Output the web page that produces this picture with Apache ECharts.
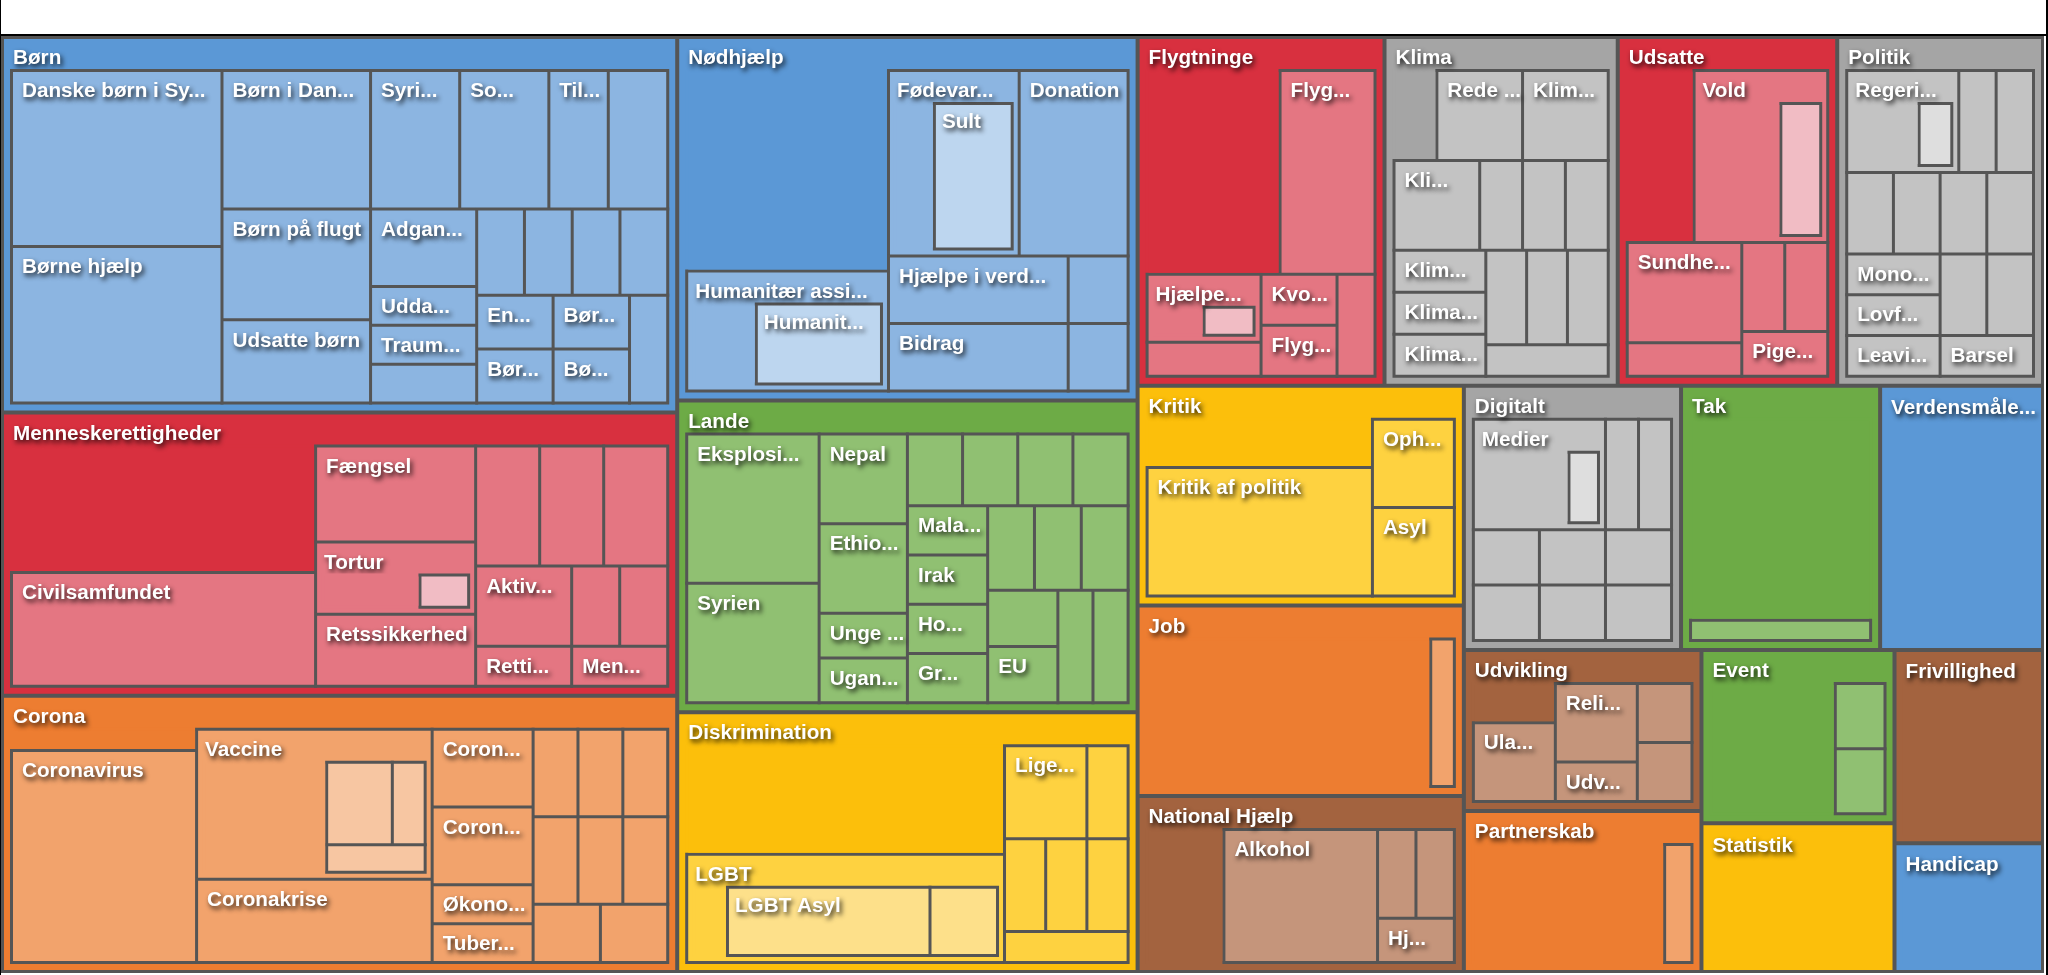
<!DOCTYPE html>
<html lang="da">
<head>
<meta charset="utf-8">
<title>Treemap</title>
<script src="https://cdn.jsdelivr.net/npm/echarts@6/dist/echarts.min.js"></script>
<style>
html,body{margin:0;padding:0;background:#fff;overflow:hidden;}
body{width:2048px;height:975px;position:relative;}
.rule{position:absolute;background:#000;}
#chart{position:absolute;left:1px;top:36px;width:2043px;height:937px;}
</style>
</head>
<body>
<div class="rule" style="left:0;top:34px;width:2048px;height:2px"></div>
<div class="rule" style="left:0;top:0;width:1px;height:975px"></div>
<div class="rule" style="left:2046px;top:0;width:2px;height:975px"></div>
<div id="chart"></div>
<script>
// ---------------- DATA ----------------
// OWN = posts that belong to the parent itself (drawn as the parent's blank area)
const OWN = null;

const categories = ['Børn','Menneskerettigheder','Corona','Nødhjælp','Lande','Diskrimination',
  'Flygtninge','Klima','Udsatte','Politik','Kritik','Job','National Hjælp','Digitalt','Tak',
  'Verdensmåle...','Udvikling','Partnerskab','Event','Statistik','Frivillighed','Handicap'];
const categoryValues = [53,40,39,35,30,25,18,17,16,15,15,13,12,12,11,9,8,8,7,6,6,4];

// third level
const subTortur     = [[OWN,2],['',1]];
const subVaccine    = [[OWN,5],['',2],['',1],['',1]];
const subHumanitaer = [[OWN,2],['Humanit...',4]];
const subFodevar    = [[OWN,2],['Sult',4]];
const subLGBT       = [[OWN,1],['LGBT Asyl',6],['',2]];
const subHjaelpe    = [[OWN,1],['',1]];
const subVold       = [[OWN,4],['',2]];
const subRegeri     = [[OWN,2],['',1]];
const subMedier     = [[OWN,3],['',1]];

// second level
const subBorn = [['Danske børn i Sy...',9],['Børne hjælp',8],['Børn i Dan...',5],['Børn på flugt',4],
  ['Udsatte børn',3],['Syri...',3],['So...',3],['Til...',2],['',2],['Adgan...',2],['Udda...',1],
  ['Traum...',1],['',1],['',1],['',1],['',1],['',1],['En...',1],['Bør...',1],['Bør...',1],['Bø...',1],['',1]];
const subMenneske = [[OWN,10],['Civilsamfundet',9],['Fængsel',4],['Tortur',3,subTortur],['Retssikkerhed',3],
  ['',2],['',2],['',2],['Aktiv...',2],['Retti...',1],['',1],['',1],['Men...',1]];
const subCorona = [[OWN,1],['Coronavirus',10],['Vaccine',9,subVaccine],['Coronakrise',5],['Coron...',2],
  ['Coron...',2],['Økono...',1],['Tuber...',1],['',1],['',1],['',1],['',1],['',1],['',1],['',1],['',1]];
const subNodhjaelp = [[OWN,10],['Humanitær assi...',6,subHumanitaer],['Fødevar...',6,subFodevar],
  ['Donation',5],['Hjælpe i verd...',3],['Bidrag',3],['',1],['',1]];
const subLande = [['Eksplosi...',5],['Syrien',4],['Nepal',2],['Ethio...',2],['Unge ...',1],['Ugan...',1],
  ['',1],['',1],['',1],['',1],['Mala...',1],['Irak',1],['Ho...',1],['Gr...',1],['',1],['',1],['',1],
  ['',1],['EU',1],['',1],['',1]];
const subDiskrimination = [[OWN,9],['LGBT',9,subLGBT],['Lige...',2],['',1],['',1],['',1],['',1],['',1]];
const subFlygtninge = [[OWN,7],['Flyg...',5],['Hjælpe...',2,subHjaelpe],['',1],['Kvo...',1],['Flyg...',1],['',1]];
const subKlima = [[OWN,1],['Rede ...',2],['Klim...',2],['Kli...',2],['',1],['',1],['',1],['Klim...',1],
  ['Klima...',1],['Klima...',1],['',1],['',1],['',1],['',1]];
const subUdsatte = [[OWN,3],['Vold',6,subVold],['Sundhe...',3],['',1],['',1],['',1],['Pige...',1]];
const subPolitik = [['Regeri...',3,subRegeri],['',1],['',1],['',1],['',1],['',1],['',1],['Mono...',1],
  ['Lovf...',1],['Leavi...',1],['',1],['',1],['Barsel',1]];
const subKritik = [[OWN,3],['Kritik af politik',8],['Oph...',2],['Asyl',2]];
const subJob = [[OWN,12],['',1]];
const subNational = [[OWN,3],['Alkohol',6],['',1],['',1],['Hj...',1]];
const subDigitalt = [['Medier',4,subMedier],['',1],['',1],['',1],['',1],['',1],['',1],['',1],['',1]];
const subTak = [[OWN,10],['',1]];
const subUdvikling = [[OWN,1],['Ula...',2],['Reli...',2],['Udv...',1],['',1],['',1]];
const subPartnerskab = [[OWN,7],['',1]];
const subEvent = [[OWN,5],['',1],['',1]];

const categoryChildren = [subBorn,subMenneske,subCorona,subNodhjaelp,subLande,subDiskrimination,
  subFlygtninge,subKlima,subUdsatte,subPolitik,subKritik,subJob,subNational,subDigitalt,subTak,
  null,subUdvikling,subPartnerskab,subEvent,null,null,null];

// ---------------- STYLE ----------------
const categoryHue = ['blue','red','orange','blue','green','yellow','red','gray','red','gray','yellow',
  'orange','brown','gray','green','blue','brown','orange','green','yellow','brown','blue'];
const shades = {
  blue:   ['#5b98d6','#8cb5e1','#bdd6ef'],
  red:    ['#d8303f','#e47682','#f1bcc4'],
  orange: ['#ed7d31','#f2a36c','#f7c6a2'],
  green:  ['#6dab46','#90c072','#b6d6a0'],
  yellow: ['#fcbf0b','#fed240','#fde08a'],
  gray:   ['#a5a5a5','#c3c3c3','#dedede'],
  brown:  ['#a3633f','#c5957b','#dcc0b0']
};
const LINE = '#555555';

function filler(value, color) {
  // border in the same colour so the blank area never paints over a neighbour's outline
  return {name: '', value: value, itemStyle: {color: color, borderColor: color, borderWidth: 3}, label: {show: false}};
}
function box(name, value, color, labelPos) {
  const n = {name: name, value: value, itemStyle: {color: color, borderColor: LINE, borderWidth: 3}};
  if (labelPos) n.label = {position: labelPos};
  return n;
}
function group(name, value, sub, c2, c3) {
  const inner = sub.map(function (s) { return s[0] === OWN ? filler(s[1], c2) : box(s[0], s[1], c3, [6, 7]); });
  return {
    name: name, value: value,
    itemStyle: {color: c2, borderColor: LINE, borderWidth: 3, gapWidth: 0},
    upperLabel: {show: false},
    children: [{
      name: name, value: value,
      itemStyle: {color: c2, borderColor: c2, borderWidth: 4, gapWidth: -3},
      upperLabel: {show: true},
      children: inner
    }]
  };
}
function second(list, c1, c2, c3) {
  return list.map(function (s) {
    if (s[0] === OWN) return filler(s[1], c1);
    if (s[2]) return group(s[0], s[1], s[2], c2, c3);
    return box(s[0], s[1], c2);
  });
}

const data = categories.map(function (name, i) {
  const sh = shades[categoryHue[i]];
  const kids = categoryChildren[i];
  if (!kids) {
    return {name: name, value: categoryValues[i],
      itemStyle: {color: sh[0], borderColor: sh[0], borderWidth: 6}, label: {position: [3, 4]}};
  }
  return {name: name, value: categoryValues[i],
    itemStyle: {color: sh[0], borderColor: sh[0], borderWidth: 6, gapWidth: -3},
    upperLabel: {show: true},
    children: second(kids, sh[0], sh[1], sh[2])};
});

const font = {
  color: '#ffffff', fontFamily: '"Liberation Sans", Arial, Helvetica, sans-serif', fontWeight: 'bold',
  fontSize: 20.7, textShadowColor: 'rgba(0,0,0,0.85)', textShadowBlur: 5, textShadowOffsetX: 2, textShadowOffsetY: 3
};

const chart = echarts.init(document.getElementById('chart'), null, {renderer: 'canvas'});
chart.setOption({
  animation: false,
  series: [{
    type: 'treemap',
    left: 0, top: 0, width: '100%', height: '100%',
    roam: false, nodeClick: false, sort: false,
    squareRatio: 0.5 * (1 + Math.sqrt(5)),
    breadcrumb: {show: false},
    itemStyle: {borderColor: LINE, borderWidth: 3, gapWidth: 4},
    levels: [{itemStyle: {borderColor: LINE, borderWidth: 3, gapWidth: 4}}],
    label: Object.assign({show: true, position: [9, 9], padding: 0, distance: 0, align: 'left', verticalAlign: 'top', overflow: 'truncate'}, font),
    upperLabel: Object.assign({show: false, height: 30, position: [3, 9], padding: 0, align: 'left', verticalAlign: 'top', overflow: 'truncate'}, font),
    data: data
  }]
});
</script>
</body>
</html>
